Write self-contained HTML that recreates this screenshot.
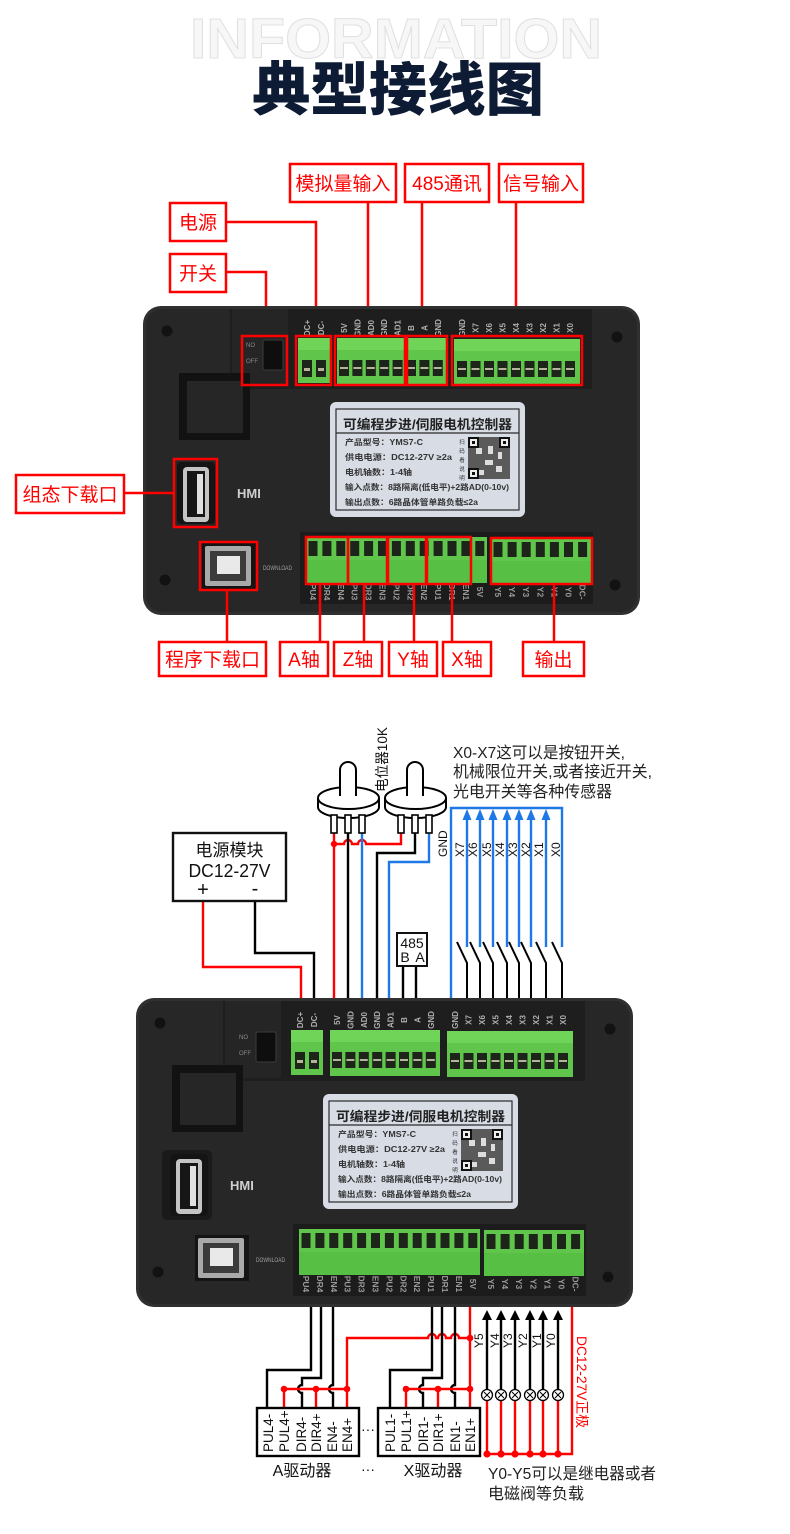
<!DOCTYPE html>
<html><head><meta charset="utf-8"><style>
html,body{margin:0;padding:0;background:#fff;}
svg{display:block;}
text{font-family:"Liberation Sans","Noto Sans CJK SC",sans-serif;}
</style></head><body>
<svg width="790" height="1534" viewBox="0 0 790 1534" xmlns="http://www.w3.org/2000/svg">
<rect width="790" height="1534" fill="#fff"/>

<!-- header -->
<text x="190" y="58" font-size="57" font-weight="bold" fill="#f7f7f7" stroke="#e0e0e0" stroke-width="1" textLength="412" lengthAdjust="spacingAndGlyphs">INFORMATION</text>
<text x="252" y="110" font-size="58" font-weight="900" fill="#0e1b35" textLength="292" lengthAdjust="spacingAndGlyphs" style="font-family:'Noto Sans CJK SC','Liberation Sans',sans-serif">典型接线图</text>

<!-- top annotations -->
<g fill="#fff" stroke="#f00" stroke-width="2.5">
<rect x="290" y="164" width="106" height="38"/>
<rect x="405" y="164" width="84" height="38"/>
<rect x="499" y="164" width="84" height="38"/>
<rect x="170" y="203" width="56" height="38"/>
<rect x="170" y="254" width="56" height="38"/>
</g>
<g fill="none" stroke="#f00" stroke-width="2.5">
<polyline points="226,222 316,222 316,336"/>
<polyline points="226,272 266,272 266,336"/>
<line x1="368" y1="202" x2="368" y2="336"/>
<line x1="422" y1="202" x2="422" y2="336"/>
<line x1="516" y1="202" x2="516" y2="336"/>
</g>
<g fill="#f00" font-size="19" text-anchor="middle">
<text x="343" y="190">模拟量输入</text>
<text x="447" y="190">485通讯</text>
<text x="541" y="190">信号输入</text>
<text x="198" y="229">电源</text>
<text x="198" y="280">开关</text>
</g>

<!-- DEVICE 1 -->
<g id="dev1">
<rect x="143" y="306" width="497" height="309" rx="18" fill="#303030"/>
<rect x="146" y="309" width="491" height="303" rx="16" fill="#272727"/>
<rect x="230" y="309" width="362" height="80" fill="#1e1e1e"/>
<rect x="232" y="309" width="56" height="77" fill="#252525"/>
<rect x="300" y="532" width="293" height="72" fill="#1c1c1c"/>
<circle cx="167" cy="331" r="5.5" fill="#121212"/>
<circle cx="617" cy="337" r="5.5" fill="#121212"/>
<circle cx="165" cy="580" r="5.5" fill="#121212"/>
<circle cx="615" cy="585" r="5.5" fill="#121212"/>
<rect x="263" y="340" width="20" height="30" rx="2" fill="#0e0e0e" stroke="#3c3c3c" stroke-width="1"/>
<text x="246" y="347" font-size="6" fill="#8a8a8a">NO</text>
<text x="246" y="363" font-size="6" fill="#8a8a8a">OFF</text>
<rect x="179" y="373" width="71" height="67" fill="#121212"/>
<rect x="187" y="381" width="56" height="52" fill="#262626"/>
<rect x="177" y="462" width="38" height="62" rx="4" fill="#141414"/>
<rect x="183" y="467" width="26" height="55" rx="4" fill="#c4c4c4"/>
<rect x="187" y="471" width="18" height="46" fill="#161616"/>
<rect x="197" y="474" width="6" height="40" fill="#e0e0e0"/>
<text x="237" y="498" font-size="13" font-weight="bold" fill="#cfcfcf">HMI</text>
<rect x="202" y="543" width="54" height="46" fill="#141414"/>
<rect x="205" y="546" width="46" height="40" rx="2" fill="#a9a9a9"/>
<rect x="210" y="551" width="36" height="30" fill="#3b3b3b"/>
<rect x="217" y="556" width="23" height="18" fill="#e9e9e9"/>
<text x="263" y="570" font-size="6.5" fill="#a0a0a0" textLength="29" lengthAdjust="spacingAndGlyphs">DOWNLOAD</text>
<!-- label -->
<rect x="330" y="402" width="195" height="115" rx="6" fill="#d7dce5"/>
<rect x="336" y="409" width="183" height="101" fill="none" stroke="#2a2a2a" stroke-width="1.2"/>
<line x1="336" y1="433" x2="519" y2="433" stroke="#2a2a2a" stroke-width="1.2"/>
<text x="343" y="429" font-size="13" font-weight="bold" fill="#222" textLength="169" lengthAdjust="spacingAndGlyphs">可编程步进/伺服电机控制器</text>
<g font-size="8" font-weight="bold" fill="#333">
<text x="345" y="445" textLength="78" lengthAdjust="spacingAndGlyphs">产品型号：YMS7-C</text>
<text x="345" y="460" textLength="107" lengthAdjust="spacingAndGlyphs">供电电源：DC12-27V ≥2a</text>
<text x="345" y="475" textLength="67" lengthAdjust="spacingAndGlyphs">电机轴数：1-4轴</text>
<text x="345" y="490" textLength="164" lengthAdjust="spacingAndGlyphs">输入点数：8路隔离(低电平)+2路AD(0-10v)</text>
<text x="345" y="505" textLength="133" lengthAdjust="spacingAndGlyphs">输出点数：6路晶体管单路负载≤2a</text>
</g>
<g font-size="5.5" fill="#333" text-anchor="middle">
<text x="462" y="444">扫</text><text x="462" y="453">码</text><text x="462" y="462">看</text><text x="462" y="471">说</text><text x="462" y="480">明</text>
</g>
<rect x="468" y="437" width="42" height="42" fill="#5a5a5a"/>
<rect x="476" y="448" width="6" height="6" fill="#ddd"/><rect x="488" y="446" width="5" height="8" fill="#ddd"/><rect x="485" y="460" width="8" height="5" fill="#ddd"/><rect x="496" y="466" width="6" height="6" fill="#ddd"/><rect x="479" y="470" width="5" height="5" fill="#ddd"/><rect x="498" y="452" width="4" height="7" fill="#ddd"/>
<rect x="468" y="437" width="11" height="11" fill="#111"/><rect x="470" y="439" width="7" height="7" fill="#eee"/><rect x="472" y="441" width="3" height="3" fill="#111"/>
<rect x="499" y="437" width="11" height="11" fill="#111"/><rect x="501" y="439" width="7" height="7" fill="#eee"/><rect x="503" y="441" width="3" height="3" fill="#111"/>
<rect x="468" y="468" width="11" height="11" fill="#111"/><rect x="470" y="470" width="7" height="7" fill="#eee"/><rect x="472" y="472" width="3" height="3" fill="#111"/>
<!-- top terminals -->
<rect x="298" y="338" width="32" height="45" fill="#5fc64b"/>
<rect x="298" y="338" width="32" height="12" fill="#6fd457"/>
<rect x="337" y="338" width="110" height="46" fill="#5fc64b"/>
<rect x="337" y="338" width="110" height="12" fill="#6fd457"/>
<rect x="454" y="339" width="126" height="46" fill="#5fc64b"/>
<rect x="454" y="339" width="126" height="12" fill="#6fd457"/>
<g fill="#1d2419">
<rect x="302" y="360" width="10" height="17"/><rect x="316" y="360" width="10" height="17"/>
<rect x="339" y="360" width="10" height="16"/><rect x="352.4" y="360" width="10" height="16"/><rect x="365.8" y="360" width="10" height="16"/><rect x="379.2" y="360" width="10" height="16"/><rect x="392.6" y="360" width="10" height="16"/><rect x="406" y="360" width="10" height="16"/><rect x="419.4" y="360" width="10" height="16"/><rect x="432.8" y="360" width="10" height="16"/>
<rect x="457" y="361" width="10" height="16"/><rect x="470.5" y="361" width="10" height="16"/><rect x="484" y="361" width="10" height="16"/><rect x="497.5" y="361" width="10" height="16"/><rect x="511" y="361" width="10" height="16"/><rect x="524.5" y="361" width="10" height="16"/><rect x="538" y="361" width="10" height="16"/><rect x="551.5" y="361" width="10" height="16"/><rect x="565" y="361" width="10" height="16"/>
</g>
<g fill="#b7b29a">
<rect x="304" y="368" width="6" height="3"/><rect x="318" y="368" width="6" height="3"/>
<rect x="340" y="367" width="8" height="2"/><rect x="353.4" y="367" width="8" height="2"/><rect x="366.8" y="367" width="8" height="2"/><rect x="380.2" y="367" width="8" height="2"/><rect x="393.6" y="367" width="8" height="2"/><rect x="407" y="367" width="8" height="2"/><rect x="420.4" y="367" width="8" height="2"/><rect x="433.8" y="367" width="8" height="2"/>
<rect x="458" y="368" width="8" height="2"/><rect x="471.5" y="368" width="8" height="2"/><rect x="485" y="368" width="8" height="2"/><rect x="498.5" y="368" width="8" height="2"/><rect x="512" y="368" width="8" height="2"/><rect x="525.5" y="368" width="8" height="2"/><rect x="539" y="368" width="8" height="2"/><rect x="552.5" y="368" width="8" height="2"/><rect x="566" y="368" width="8" height="2"/>
</g>
<g font-size="8" font-weight="bold" fill="#b0b0b0" text-anchor="middle">
<text transform="translate(310,328) rotate(-90)">DC+</text>
<text transform="translate(324,328) rotate(-90)">DC-</text>
<text transform="translate(347,328) rotate(-90)">5V</text>
<text transform="translate(360.4,328) rotate(-90)">GND</text>
<text transform="translate(373.8,328) rotate(-90)">AD0</text>
<text transform="translate(387.2,328) rotate(-90)">GND</text>
<text transform="translate(400.6,328) rotate(-90)">AD1</text>
<text transform="translate(414,328) rotate(-90)">B</text>
<text transform="translate(427.4,328) rotate(-90)">A</text>
<text transform="translate(440.8,328) rotate(-90)">GND</text>
<text transform="translate(465,328) rotate(-90)">GND</text>
<text transform="translate(478.5,328) rotate(-90)">X7</text>
<text transform="translate(492,328) rotate(-90)">X6</text>
<text transform="translate(505.5,328) rotate(-90)">X5</text>
<text transform="translate(519,328) rotate(-90)">X4</text>
<text transform="translate(532.5,328) rotate(-90)">X3</text>
<text transform="translate(546,328) rotate(-90)">X2</text>
<text transform="translate(559.5,328) rotate(-90)">X1</text>
<text transform="translate(573,328) rotate(-90)">X0</text>
</g>
<!-- bottom terminals -->
<rect x="306" y="537" width="181" height="46" fill="#5fc64b"/>
<rect x="491" y="538" width="100" height="46" fill="#5fc64b"/>
<rect x="306" y="560" width="181" height="23" fill="#58bf45"/>
<rect x="491" y="561" width="100" height="23" fill="#58bf45"/>
<g fill="#1d2419">
<rect x="308.5" y="541" width="9" height="15"/><rect x="322.4" y="541" width="9" height="15"/><rect x="336.3" y="541" width="9" height="15"/><rect x="350.2" y="541" width="9" height="15"/><rect x="364.1" y="541" width="9" height="15"/><rect x="378" y="541" width="9" height="15"/><rect x="391.9" y="541" width="9" height="15"/><rect x="405.8" y="541" width="9" height="15"/><rect x="419.7" y="541" width="9" height="15"/><rect x="433.6" y="541" width="9" height="15"/><rect x="447.5" y="541" width="9" height="15"/><rect x="461.4" y="541" width="9" height="15"/><rect x="475.3" y="541" width="9" height="15"/>
<rect x="493.5" y="542" width="9" height="15"/><rect x="507.6" y="542" width="9" height="15"/><rect x="521.7" y="542" width="9" height="15"/><rect x="535.8" y="542" width="9" height="15"/><rect x="549.9" y="542" width="9" height="15"/><rect x="564" y="542" width="9" height="15"/><rect x="578.1" y="542" width="9" height="15"/>
</g>
<g font-size="8.5" font-weight="bold" fill="#9a9a9a" text-anchor="middle">
<text transform="translate(310,592) rotate(90)">PU4</text>
<text transform="translate(323.9,592) rotate(90)">DR4</text>
<text transform="translate(337.8,592) rotate(90)">EN4</text>
<text transform="translate(351.7,592) rotate(90)">PU3</text>
<text transform="translate(365.6,592) rotate(90)">DR3</text>
<text transform="translate(379.5,592) rotate(90)">EN3</text>
<text transform="translate(393.4,592) rotate(90)">PU2</text>
<text transform="translate(407.3,592) rotate(90)">DR2</text>
<text transform="translate(421.2,592) rotate(90)">EN2</text>
<text transform="translate(435.1,592) rotate(90)">PU1</text>
<text transform="translate(449,592) rotate(90)">DR1</text>
<text transform="translate(462.9,592) rotate(90)">EN1</text>
<text transform="translate(476.8,592) rotate(90)">5V</text>
<text transform="translate(495,592) rotate(90)">Y5</text>
<text transform="translate(509.1,592) rotate(90)">Y4</text>
<text transform="translate(523.2,592) rotate(90)">Y3</text>
<text transform="translate(537.3,592) rotate(90)">Y2</text>
<text transform="translate(551.4,592) rotate(90)">Y1</text>
<text transform="translate(565.5,592) rotate(90)">Y0</text>
<text transform="translate(579.6,592) rotate(90)">DC-</text>
</g>
</g>

<!-- device 1 annotations -->
<g fill="none" stroke="#f00" stroke-width="2.5">
<rect x="242" y="336" width="45" height="49"/>
<rect x="296" y="336" width="35" height="49"/>
<rect x="335" y="336" width="70" height="49"/>
<rect x="407" y="336" width="40" height="49"/>
<rect x="452" y="336" width="130" height="49"/>
<rect x="174" y="459" width="43" height="68"/>
<rect x="200" y="542" width="57" height="48"/>
<rect x="306" y="537" width="42" height="47"/>
<rect x="348" y="537" width="39" height="47"/>
<rect x="388" y="537" width="38" height="47"/>
<rect x="427" y="537" width="44" height="47"/>
<rect x="491" y="538" width="101" height="46"/>
<line x1="124" y1="493" x2="174" y2="493"/>
<line x1="227" y1="590" x2="227" y2="642"/>
<line x1="320" y1="584" x2="320" y2="642"/>
<line x1="364" y1="584" x2="364" y2="642"/>
<line x1="414" y1="584" x2="414" y2="642"/>
<line x1="452" y1="584" x2="452" y2="642"/>
<line x1="554" y1="584" x2="554" y2="642"/>
</g>
<g fill="#fff" stroke="#f00" stroke-width="2.5">
<rect x="16" y="475" width="108" height="38"/>
<rect x="159" y="642" width="107" height="34"/>
<rect x="280" y="642" width="48" height="34"/>
<rect x="334" y="642" width="48" height="34"/>
<rect x="389" y="642" width="48" height="34"/>
<rect x="443" y="642" width="48" height="34"/>
<rect x="523" y="642" width="61" height="34"/>
</g>
<g fill="#f00" font-size="19" text-anchor="middle">
<text x="70" y="501">组态下载口</text>
<text x="212.5" y="666">程序下载口</text>
<text x="304" y="666">A轴</text>
<text x="358" y="666">Z轴</text>
<text x="413" y="666">Y轴</text>
<text x="467" y="666">X轴</text>
<text x="553.5" y="666">输出</text>
</g>

<!-- WIRING TOP (diagram 2) -->
<g fill="none" stroke-width="2.4">
<polyline stroke="#f00" points="203,901 203,967 301,967 301,1000"/>
<polyline stroke="#000" points="255,901 255,953 314,953 314,1000"/>
<line stroke="#f00" x1="334" y1="833" x2="334" y2="1000"/>
<path stroke="#f00" d="M334,844 H344 A4,4 0 0 1 352,844 H358 A4,4 0 0 1 366,844 H401 V833"/>
<line stroke="#000" x1="348" y1="833" x2="348" y2="1000"/>
<line stroke="#1e78e6" x1="362" y1="833" x2="362" y2="1000"/>
<polyline stroke="#000" points="415,833 415,853 377,853 377,1000"/>
<polyline stroke="#1e78e6" points="429,833 429,862 389,862 389,1000"/>
<line stroke="#000" x1="403" y1="966" x2="403" y2="1000"/>
<line stroke="#000" x1="416" y1="966" x2="416" y2="1000"/>
<polyline stroke="#1e78e6" points="451,1000 451,808 562,808 562,947"/>
<g stroke="#1e78e6">
<line x1="467" y1="818" x2="467" y2="947"/>
<line x1="480" y1="818" x2="480" y2="947"/>
<line x1="493" y1="818" x2="493" y2="947"/>
<line x1="507" y1="818" x2="507" y2="947"/>
<line x1="519" y1="818" x2="519" y2="947"/>
<line x1="531" y1="818" x2="531" y2="947"/>
<line x1="546" y1="818" x2="546" y2="947"/>
</g>
<g stroke="#000" stroke-width="2">
<polyline points="457,942 467,963 467,1000"/>
<polyline points="470,942 480,963 480,1000"/>
<polyline points="483,942 493,963 493,1000"/>
<polyline points="497,942 507,963 507,1000"/>
<polyline points="509,942 519,963 519,1000"/>
<polyline points="521,942 531,963 531,1000"/>
<polyline points="536,942 546,963 546,1000"/>
<polyline points="552,942 562,963 562,1000"/>
</g>
</g>
<circle cx="334" cy="844" r="3.2" fill="#f00"/>
<g fill="#1e78e6">
<polygon points="467,809 462.5,820 471.5,820"/>
<polygon points="480,809 475.5,820 484.5,820"/>
<polygon points="493,809 488.5,820 497.5,820"/>
<polygon points="507,809 502.5,820 511.5,820"/>
<polygon points="519,809 514.5,820 523.5,820"/>
<polygon points="531,809 526.5,820 535.5,820"/>
<polygon points="546,809 541.5,820 550.5,820"/>
</g>
<!-- potentiometers -->
<g fill="#fff" stroke="#000" stroke-width="2">
<path d="M318,798 V807 A30.5,11 0 0 0 379,807 V798"/>
<ellipse cx="348.5" cy="798" rx="30.5" ry="11"/>
<path d="M340,796 V770 A8,8 0 0 1 356,770 V796"/>
<rect x="331" y="815" width="6" height="18" stroke-width="1.6"/>
<rect x="345" y="815" width="6" height="18" stroke-width="1.6"/>
<rect x="359" y="815" width="6" height="18" stroke-width="1.6"/>
<path d="M385,798 V807 A30.5,11 0 0 0 446,807 V798"/>
<ellipse cx="415.5" cy="798" rx="30.5" ry="11"/>
<path d="M407,796 V770 A8,8 0 0 1 423,770 V796"/>
<rect x="398" y="815" width="6" height="18" stroke-width="1.6"/>
<rect x="412" y="815" width="6" height="18" stroke-width="1.6"/>
<rect x="426" y="815" width="6" height="18" stroke-width="1.6"/>
</g>
<text transform="translate(387,792) rotate(-90)" font-size="14" fill="#111" textLength="65" lengthAdjust="spacingAndGlyphs">电位器10K</text>
<!-- power module -->
<rect x="173" y="833" width="113" height="68" fill="#fff" stroke="#111" stroke-width="2.4"/>
<text x="229.5" y="856" font-size="17" fill="#111" text-anchor="middle">电源模块</text>
<text x="229.5" y="877" font-size="18" fill="#111" text-anchor="middle" textLength="82" lengthAdjust="spacingAndGlyphs">DC12-27V</text>
<text x="203" y="896" font-size="20" fill="#111" text-anchor="middle">+</text>
<text x="255" y="895" font-size="20" fill="#111" text-anchor="middle">-</text>
<!-- 485 -->
<rect x="397" y="933" width="30" height="33" fill="#fff" stroke="#111" stroke-width="2"/>
<text x="412" y="948" font-size="14" fill="#111" text-anchor="middle">485</text>
<text x="405" y="962" font-size="14" fill="#111" text-anchor="middle">B</text>
<text x="420" y="962" font-size="14" fill="#111" text-anchor="middle">A</text>
<!-- X labels -->
<g font-size="12" fill="#111">
<text transform="translate(447,857) rotate(-90)">GND</text>
<text transform="translate(464,857) rotate(-90)">X7</text>
<text transform="translate(477,857) rotate(-90)">X6</text>
<text transform="translate(491,857) rotate(-90)">X5</text>
<text transform="translate(504,857) rotate(-90)">X4</text>
<text transform="translate(517,857) rotate(-90)">X3</text>
<text transform="translate(530,857) rotate(-90)">X2</text>
<text transform="translate(543,857) rotate(-90)">X1</text>
<text transform="translate(560,857) rotate(-90)">X0</text>
</g>
<g font-size="16" fill="#222">
<text x="453" y="758" textLength="172" lengthAdjust="spacingAndGlyphs">X0-X7这可以是按钮开关,</text>
<text x="453" y="777" textLength="199" lengthAdjust="spacingAndGlyphs">机械限位开关,或者接近开关,</text>
<text x="453" y="797" textLength="159" lengthAdjust="spacingAndGlyphs">光电开关等各种传感器</text>
</g>

<!-- WIRING BOTTOM -->
<g fill="none" stroke-width="2.4">
<polyline stroke="#000" points="311,1300 311,1370 267,1370 267,1408"/>
<path stroke="#000" d="M321,1300 V1378 H302 V1385 A4,4 0 0 0 302,1393 V1408"/>
<path stroke="#000" d="M333,1300 V1385 A4,4 0 0 0 333,1393 V1408"/>
<path stroke="#f00" d="M284,1408 V1389 H347"/>
<line stroke="#f00" x1="316" y1="1389" x2="316" y2="1408"/>
<path stroke="#f00" d="M347,1408 V1338 H428 A4,4 0 0 1 436,1338 H438 A4,4 0 0 1 446,1338 H451 A4,4 0 0 1 459,1338 H470"/>
<line stroke="#f00" x1="470" y1="1300" x2="470" y2="1408"/>
<polyline stroke="#000" points="432,1300 432,1370 390,1370 390,1408"/>
<path stroke="#000" d="M442,1300 V1378 H423 V1385 A4,4 0 0 0 423,1393 V1408"/>
<path stroke="#000" d="M455,1300 V1385 A4,4 0 0 0 455,1393 V1408"/>
<path stroke="#f00" d="M406,1408 V1389 H470"/>
<line stroke="#f00" x1="438" y1="1389" x2="438" y2="1408"/>
<g stroke="#000">
<line x1="487" y1="1318" x2="487" y2="1390"/>
<line x1="501" y1="1318" x2="501" y2="1390"/>
<line x1="515" y1="1318" x2="515" y2="1390"/>
<line x1="530" y1="1318" x2="530" y2="1390"/>
<line x1="543" y1="1318" x2="543" y2="1390"/>
<line x1="558" y1="1318" x2="558" y2="1390"/>
</g>
<g stroke="#f00">
<line x1="487" y1="1400" x2="487" y2="1454"/>
<line x1="501" y1="1400" x2="501" y2="1454"/>
<line x1="515" y1="1400" x2="515" y2="1454"/>
<line x1="530" y1="1400" x2="530" y2="1454"/>
<line x1="543" y1="1400" x2="543" y2="1454"/>
<line x1="558" y1="1400" x2="558" y2="1454"/>
<polyline points="487,1454 572,1454 572,1300"/>
</g>
</g>
<g fill="#000">
<polygon points="487,1310 482,1320 492,1320"/>
<polygon points="501,1310 496,1320 506,1320"/>
<polygon points="515,1310 510,1320 520,1320"/>
<polygon points="530,1310 525,1320 535,1320"/>
<polygon points="543,1310 538,1320 548,1320"/>
<polygon points="558,1310 553,1320 563,1320"/>
</g>
<g fill="#fff" stroke="#000" stroke-width="1.3">
<circle cx="487" cy="1395" r="5.5"/><circle cx="501" cy="1395" r="5.5"/><circle cx="515" cy="1395" r="5.5"/><circle cx="530" cy="1395" r="5.5"/><circle cx="543" cy="1395" r="5.5"/><circle cx="558" cy="1395" r="5.5"/>
</g>
<g stroke="#000" stroke-width="1">
<path d="M484,1392 l6,6 M490,1392 l-6,6"/>
<path d="M498,1392 l6,6 M504,1392 l-6,6"/>
<path d="M512,1392 l6,6 M518,1392 l-6,6"/>
<path d="M527,1392 l6,6 M533,1392 l-6,6"/>
<path d="M540,1392 l6,6 M546,1392 l-6,6"/>
<path d="M555,1392 l6,6 M561,1392 l-6,6"/>
</g>
<g fill="#f00">
<circle cx="284" cy="1389" r="3.3"/><circle cx="316" cy="1389" r="3.3"/><circle cx="347" cy="1389" r="3.3"/>
<circle cx="406" cy="1389" r="3.3"/><circle cx="438" cy="1389" r="3.3"/><circle cx="470" cy="1389" r="3.3"/>
<circle cx="470" cy="1338" r="3.3"/>
<circle cx="487" cy="1454" r="3.6"/><circle cx="501" cy="1454" r="3.6"/><circle cx="515" cy="1454" r="3.6"/><circle cx="530" cy="1454" r="3.6"/><circle cx="543" cy="1454" r="3.6"/><circle cx="558" cy="1454" r="3.6"/>
</g>
<!-- driver boxes -->
<rect x="257" y="1408" width="102" height="48" fill="#fff" stroke="#000" stroke-width="2.4"/>
<rect x="378" y="1408" width="102" height="48" fill="#fff" stroke="#000" stroke-width="2.4"/>
<g font-size="13.5" fill="#111">
<text transform="translate(273,1452) rotate(-90)">PUL4-</text>
<text transform="translate(289,1452) rotate(-90)">PUL4+</text>
<text transform="translate(306,1452) rotate(-90)">DIR4-</text>
<text transform="translate(321,1452) rotate(-90)">DIR4+</text>
<text transform="translate(337,1452) rotate(-90)">EN4-</text>
<text transform="translate(352,1452) rotate(-90)">EN4+</text>
<text transform="translate(395,1452) rotate(-90)">PUL1-</text>
<text transform="translate(411,1452) rotate(-90)">PUL1+</text>
<text transform="translate(428,1452) rotate(-90)">DIR1-</text>
<text transform="translate(443,1452) rotate(-90)">DIR1+</text>
<text transform="translate(460,1452) rotate(-90)">EN1-</text>
<text transform="translate(475,1452) rotate(-90)">EN1+</text>
</g>
<g font-size="16" fill="#111" text-anchor="middle">
<text x="302" y="1476">A驱动器</text>
<text x="433" y="1476">X驱动器</text>
<text x="368" y="1434" font-size="14">···</text>
<text x="368" y="1474" font-size="14">···</text>
</g>
<g font-size="12" fill="#111">
<text transform="translate(483,1348) rotate(-90)">Y5</text>
<text transform="translate(499,1348) rotate(-90)">Y4</text>
<text transform="translate(512,1348) rotate(-90)">Y3</text>
<text transform="translate(527,1348) rotate(-90)">Y2</text>
<text transform="translate(541,1348) rotate(-90)">Y1</text>
<text transform="translate(555,1348) rotate(-90)">Y0</text>
</g>
<text transform="translate(577,1336) rotate(90)" font-size="14" fill="#f00" textLength="92" lengthAdjust="spacingAndGlyphs">DC12-27V正极</text>
<g font-size="16" fill="#222">
<text x="488" y="1479" textLength="168" lengthAdjust="spacingAndGlyphs">Y0-Y5可以是继电器或者</text>
<text x="488" y="1499">电磁阀等负载</text>
</g>

<!-- DEVICE 2 -->
<g transform="translate(-7,692)">
<rect x="143" y="306" width="497" height="309" rx="18" fill="#303030"/>
<rect x="146" y="309" width="491" height="303" rx="16" fill="#272727"/>
<rect x="230" y="309" width="362" height="80" fill="#1e1e1e"/>
<rect x="232" y="309" width="56" height="77" fill="#252525"/>
<rect x="300" y="532" width="293" height="72" fill="#1c1c1c"/>
<circle cx="167" cy="331" r="5.5" fill="#121212"/>
<circle cx="617" cy="337" r="5.5" fill="#121212"/>
<circle cx="165" cy="580" r="5.5" fill="#121212"/>
<circle cx="615" cy="585" r="5.5" fill="#121212"/>
<rect x="263" y="340" width="20" height="30" rx="2" fill="#0e0e0e" stroke="#3c3c3c" stroke-width="1"/>
<text x="246" y="347" font-size="6" fill="#8a8a8a">NO</text>
<text x="246" y="363" font-size="6" fill="#8a8a8a">OFF</text>
<rect x="179" y="373" width="71" height="67" fill="#121212"/>
<rect x="187" y="381" width="56" height="52" fill="#262626"/>
<rect x="169" y="458" width="50" height="70" rx="5" fill="#1a1a1a"/>
<rect x="177" y="462" width="38" height="62" rx="4" fill="#141414"/>
<rect x="183" y="467" width="26" height="55" rx="4" fill="#c4c4c4"/>
<rect x="187" y="471" width="18" height="46" fill="#161616"/>
<rect x="197" y="474" width="6" height="40" fill="#e0e0e0"/>
<text x="237" y="498" font-size="13" font-weight="bold" fill="#cfcfcf">HMI</text>
<rect x="202" y="543" width="54" height="46" fill="#141414"/>
<rect x="205" y="546" width="46" height="40" rx="2" fill="#a9a9a9"/>
<rect x="210" y="551" width="36" height="30" fill="#3b3b3b"/>
<rect x="217" y="556" width="23" height="18" fill="#e9e9e9"/>
<text x="263" y="570" font-size="6.5" fill="#a0a0a0" textLength="29" lengthAdjust="spacingAndGlyphs">DOWNLOAD</text>
<rect x="330" y="402" width="195" height="115" rx="6" fill="#d7dce5"/>
<rect x="336" y="409" width="183" height="101" fill="none" stroke="#2a2a2a" stroke-width="1.2"/>
<line x1="336" y1="433" x2="519" y2="433" stroke="#2a2a2a" stroke-width="1.2"/>
<text x="343" y="429" font-size="13" font-weight="bold" fill="#222" textLength="169" lengthAdjust="spacingAndGlyphs">可编程步进/伺服电机控制器</text>
<g font-size="8" font-weight="bold" fill="#333">
<text x="345" y="445" textLength="78" lengthAdjust="spacingAndGlyphs">产品型号：YMS7-C</text>
<text x="345" y="460" textLength="107" lengthAdjust="spacingAndGlyphs">供电电源：DC12-27V ≥2a</text>
<text x="345" y="475" textLength="67" lengthAdjust="spacingAndGlyphs">电机轴数：1-4轴</text>
<text x="345" y="490" textLength="164" lengthAdjust="spacingAndGlyphs">输入点数：8路隔离(低电平)+2路AD(0-10v)</text>
<text x="345" y="505" textLength="133" lengthAdjust="spacingAndGlyphs">输出点数：6路晶体管单路负载≤2a</text>
</g>
<g font-size="5.5" fill="#333" text-anchor="middle">
<text x="462" y="444">扫</text><text x="462" y="453">码</text><text x="462" y="462">看</text><text x="462" y="471">说</text><text x="462" y="480">明</text>
</g>
<rect x="468" y="437" width="42" height="42" fill="#5a5a5a"/>
<rect x="476" y="448" width="6" height="6" fill="#ddd"/><rect x="488" y="446" width="5" height="8" fill="#ddd"/><rect x="485" y="460" width="8" height="5" fill="#ddd"/><rect x="496" y="466" width="6" height="6" fill="#ddd"/><rect x="479" y="470" width="5" height="5" fill="#ddd"/><rect x="498" y="452" width="4" height="7" fill="#ddd"/>
<rect x="468" y="437" width="11" height="11" fill="#111"/><rect x="470" y="439" width="7" height="7" fill="#eee"/><rect x="472" y="441" width="3" height="3" fill="#111"/>
<rect x="499" y="437" width="11" height="11" fill="#111"/><rect x="501" y="439" width="7" height="7" fill="#eee"/><rect x="503" y="441" width="3" height="3" fill="#111"/>
<rect x="468" y="468" width="11" height="11" fill="#111"/><rect x="470" y="470" width="7" height="7" fill="#eee"/><rect x="472" y="472" width="3" height="3" fill="#111"/>
<rect x="298" y="338" width="32" height="45" fill="#5fc64b"/>
<rect x="298" y="338" width="32" height="12" fill="#6fd457"/>
<rect x="337" y="338" width="110" height="46" fill="#5fc64b"/>
<rect x="337" y="338" width="110" height="12" fill="#6fd457"/>
<rect x="454" y="339" width="126" height="46" fill="#5fc64b"/>
<rect x="454" y="339" width="126" height="12" fill="#6fd457"/>
<g fill="#1d2419">
<rect x="302" y="360" width="10" height="17"/><rect x="316" y="360" width="10" height="17"/>
<rect x="339" y="360" width="10" height="16"/><rect x="352.4" y="360" width="10" height="16"/><rect x="365.8" y="360" width="10" height="16"/><rect x="379.2" y="360" width="10" height="16"/><rect x="392.6" y="360" width="10" height="16"/><rect x="406" y="360" width="10" height="16"/><rect x="419.4" y="360" width="10" height="16"/><rect x="432.8" y="360" width="10" height="16"/>
<rect x="457" y="361" width="10" height="16"/><rect x="470.5" y="361" width="10" height="16"/><rect x="484" y="361" width="10" height="16"/><rect x="497.5" y="361" width="10" height="16"/><rect x="511" y="361" width="10" height="16"/><rect x="524.5" y="361" width="10" height="16"/><rect x="538" y="361" width="10" height="16"/><rect x="551.5" y="361" width="10" height="16"/><rect x="565" y="361" width="10" height="16"/>
</g>
<g fill="#b7b29a">
<rect x="304" y="368" width="6" height="3"/><rect x="318" y="368" width="6" height="3"/>
<rect x="340" y="367" width="8" height="2"/><rect x="353.4" y="367" width="8" height="2"/><rect x="366.8" y="367" width="8" height="2"/><rect x="380.2" y="367" width="8" height="2"/><rect x="393.6" y="367" width="8" height="2"/><rect x="407" y="367" width="8" height="2"/><rect x="420.4" y="367" width="8" height="2"/><rect x="433.8" y="367" width="8" height="2"/>
<rect x="458" y="368" width="8" height="2"/><rect x="471.5" y="368" width="8" height="2"/><rect x="485" y="368" width="8" height="2"/><rect x="498.5" y="368" width="8" height="2"/><rect x="512" y="368" width="8" height="2"/><rect x="525.5" y="368" width="8" height="2"/><rect x="539" y="368" width="8" height="2"/><rect x="552.5" y="368" width="8" height="2"/><rect x="566" y="368" width="8" height="2"/>
</g>
<g font-size="8" font-weight="bold" fill="#b0b0b0" text-anchor="middle">
<text transform="translate(310,328) rotate(-90)">DC+</text>
<text transform="translate(324,328) rotate(-90)">DC-</text>
<text transform="translate(347,328) rotate(-90)">5V</text>
<text transform="translate(360.4,328) rotate(-90)">GND</text>
<text transform="translate(373.8,328) rotate(-90)">AD0</text>
<text transform="translate(387.2,328) rotate(-90)">GND</text>
<text transform="translate(400.6,328) rotate(-90)">AD1</text>
<text transform="translate(414,328) rotate(-90)">B</text>
<text transform="translate(427.4,328) rotate(-90)">A</text>
<text transform="translate(440.8,328) rotate(-90)">GND</text>
<text transform="translate(465,328) rotate(-90)">GND</text>
<text transform="translate(478.5,328) rotate(-90)">X7</text>
<text transform="translate(492,328) rotate(-90)">X6</text>
<text transform="translate(505.5,328) rotate(-90)">X5</text>
<text transform="translate(519,328) rotate(-90)">X4</text>
<text transform="translate(532.5,328) rotate(-90)">X3</text>
<text transform="translate(546,328) rotate(-90)">X2</text>
<text transform="translate(559.5,328) rotate(-90)">X1</text>
<text transform="translate(573,328) rotate(-90)">X0</text>
</g>
<rect x="306" y="537" width="181" height="46" fill="#5fc64b"/>
<rect x="491" y="538" width="100" height="46" fill="#5fc64b"/>
<rect x="306" y="560" width="181" height="23" fill="#58bf45"/>
<rect x="491" y="561" width="100" height="23" fill="#58bf45"/>
<g fill="#1d2419">
<rect x="308.5" y="541" width="9" height="15"/><rect x="322.4" y="541" width="9" height="15"/><rect x="336.3" y="541" width="9" height="15"/><rect x="350.2" y="541" width="9" height="15"/><rect x="364.1" y="541" width="9" height="15"/><rect x="378" y="541" width="9" height="15"/><rect x="391.9" y="541" width="9" height="15"/><rect x="405.8" y="541" width="9" height="15"/><rect x="419.7" y="541" width="9" height="15"/><rect x="433.6" y="541" width="9" height="15"/><rect x="447.5" y="541" width="9" height="15"/><rect x="461.4" y="541" width="9" height="15"/><rect x="475.3" y="541" width="9" height="15"/>
<rect x="493.5" y="542" width="9" height="15"/><rect x="507.6" y="542" width="9" height="15"/><rect x="521.7" y="542" width="9" height="15"/><rect x="535.8" y="542" width="9" height="15"/><rect x="549.9" y="542" width="9" height="15"/><rect x="564" y="542" width="9" height="15"/><rect x="578.1" y="542" width="9" height="15"/>
</g>
<g font-size="8.5" font-weight="bold" fill="#9a9a9a" text-anchor="middle">
<text transform="translate(310,592) rotate(90)">PU4</text>
<text transform="translate(323.9,592) rotate(90)">DR4</text>
<text transform="translate(337.8,592) rotate(90)">EN4</text>
<text transform="translate(351.7,592) rotate(90)">PU3</text>
<text transform="translate(365.6,592) rotate(90)">DR3</text>
<text transform="translate(379.5,592) rotate(90)">EN3</text>
<text transform="translate(393.4,592) rotate(90)">PU2</text>
<text transform="translate(407.3,592) rotate(90)">DR2</text>
<text transform="translate(421.2,592) rotate(90)">EN2</text>
<text transform="translate(435.1,592) rotate(90)">PU1</text>
<text transform="translate(449,592) rotate(90)">DR1</text>
<text transform="translate(462.9,592) rotate(90)">EN1</text>
<text transform="translate(476.8,592) rotate(90)">5V</text>
<text transform="translate(495,592) rotate(90)">Y5</text>
<text transform="translate(509.1,592) rotate(90)">Y4</text>
<text transform="translate(523.2,592) rotate(90)">Y3</text>
<text transform="translate(537.3,592) rotate(90)">Y2</text>
<text transform="translate(551.4,592) rotate(90)">Y1</text>
<text transform="translate(565.5,592) rotate(90)">Y0</text>
<text transform="translate(579.6,592) rotate(90)">DC-</text>
</g>
</g>
</svg>
</body></html>
